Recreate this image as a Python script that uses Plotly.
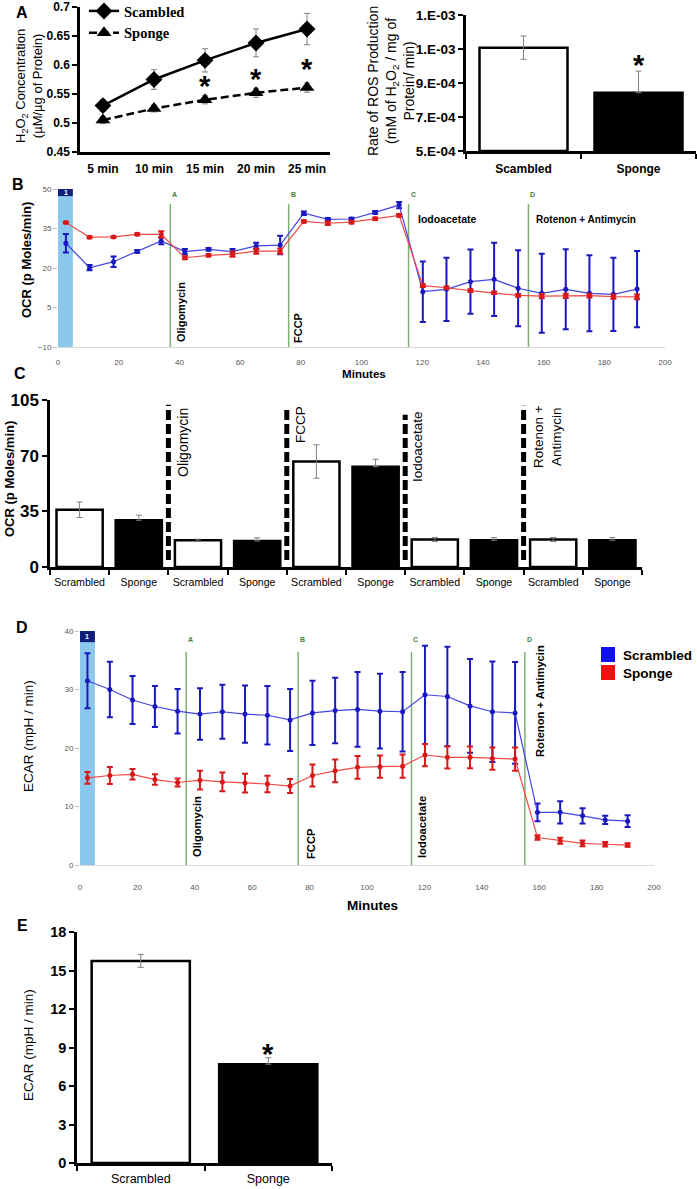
import plotly.graph_objects as go

W, H = 697, 1189
def px(x): return x / W
def py(y): return 1 - y / H

ARIAL = "Liberation Sans"
TIMES = "Liberation Serif"

# ---------------- Panel A (left) ----------------
a_times = ["5 min", "10 min", "15 min", "20 min", "25 min"]
a_scr = [0.530, 0.575, 0.608, 0.638, 0.662]
a_scr_err = [0.010, 0.017, 0.020, 0.024, 0.027]
a_spo = [0.505, 0.525, 0.540, 0.552, 0.561]
a_spo_err = [0.006, 0.006, 0.007, 0.008, 0.008]
a_star_x = [2, 3, 4]
a_star_y = [0.571, 0.583, 0.600]
a_yticks = [0.45, 0.5, 0.55, 0.6, 0.65, 0.7]
a_yticktext = ["0.45", "0.5", "0.55", "0.6", "0.65", "0.7"]

# ---------------- Panel A (right) ----------------
ros_groups = ["Scambled", "Sponge"]
ros_rate = [1.108e-3, 8.43e-4]
ros_err_plus = [6.85e-5, 1.27e-4]
ros_err_minus = [6.85e-5, 0.0]
ros_star_y = 1.031e-3
ros_ticks = [5e-4, 7e-4, 9e-4, 1.1e-3, 1.3e-3]
ros_ticktext = ["5.E-04", "7.E-04", "9.E-04", "1.E-03", "1.E-03"]

# ---------------- Panels B & D (time courses) ----------------
t_min = [2.6, 10.4, 18.3, 26.1, 34.0, 41.8, 49.6, 57.5, 65.3, 73.2, 81.0, 88.9, 96.7,
         104.5, 112.4, 120.2, 128.0, 135.9, 143.7, 151.6, 159.4, 167.3, 175.1, 183.0, 190.8]
inject_t = [37, 76, 115.5, 155]
inject_letters = ["A", "B", "C", "D"]

ocr_scr = [29.4, 20.1, 22.4, 26.3, 30.3, 26.2, 27.1, 26.2, 28.4, 28.7, 40.8, 38.5, 38.6,
           41.1, 43.9, 11.0, 11.9, 14.8, 15.7, 12.3, 10.4, 11.9, 10.4, 10.0, 12.0]
ocr_scr_err = [3.5, 1.0, 2.0, 0.5, 1.3, 1.0, 0.5, 1.0, 1.2, 3.5, 0.7, 0.5, 0.5,
               0.5, 1.2, 11.5, 12.0, 12.2, 13.9, 14.4, 15.0, 15.2, 14.4, 13.9, 14.5]
ocr_spo = [37.3, 31.7, 31.8, 32.8, 32.8, 23.9, 24.8, 25.3, 26.4, 26.4, 37.7, 37.0, 37.4,
           38.7, 40.0, 13.3, 12.5, 11.4, 10.6, 9.6, 9.3, 9.4, 9.5, 9.1, 9.0]
ocr_spo_err = [0.3, 0.4, 0.3, 0.4, 1.2, 0.6, 0.4, 1.0, 1.0, 1.0, 0.4, 0.7, 0.5,
               0.5, 0.5, 0.5, 0.5, 0.5, 0.5, 0.5, 0.8, 0.8, 0.7, 0.8, 0.9]

ecar_scr = [31.5, 30.0, 28.2, 27.1, 26.3, 25.8, 26.2, 25.8, 25.6, 24.8, 26.0, 26.4, 26.6,
            26.3, 26.2, 29.1, 28.8, 27.2, 26.2, 26.0, 9.0, 9.0, 8.4, 7.7, 7.5]
ecar_scr_err = [4.7, 4.75, 4.1, 3.5, 3.8, 4.4, 4.6, 4.9, 5.0, 5.3, 5.5, 5.6, 6.4,
                6.4, 6.8, 8.4, 8.5, 8.0, 8.6, 8.7, 1.5, 1.9, 1.3, 0.7, 1.0]
ecar_spo = [14.9, 15.3, 15.5, 14.6, 14.1, 14.5, 14.2, 14.0, 13.85, 13.5, 15.3, 16.1, 16.7,
            16.8, 16.9, 18.8, 18.4, 18.4, 18.2, 18.1, 4.7, 4.15, 3.7, 3.55, 3.4]
ecar_spo_err = [1.0, 1.45, 0.9, 0.9, 0.7, 1.6, 1.6, 1.6, 1.4, 1.2, 1.9, 1.95, 1.95,
                1.9, 2.0, 1.9, 1.9, 1.85, 1.9, 2.0, 0.4, 0.5, 0.5, 0.4, 0.3]

# ---------------- Panel C ----------------
c_labels = ["Scrambled", "Sponge"] * 5
c_vals = [36.0, 29.4, 16.8, 16.4, 66.3, 63.1, 17.3, 16.8, 17.3, 16.8]
c_err = [4.9, 3.2, 0.7, 2.0, 10.5, 4.6, 1.3, 1.7, 1.3, 1.7]
c_divider_top = [102, 100.8, 95.7, 101.4]

# ---------------- Panel E ----------------
e_groups = ["Scrambled", "Sponge"]
e_vals = [15.75, 7.7]
e_err_plus = [0.5, 0.5]
e_err_minus = [0.5, 0.0]
e_star_y = 8.83

BLUE_LINE = "#4444e0"
BLUE = "#1818c0"
RED_LINE = "#f04848"
RED = "#d81818"
GREEN = "#7fae74"
BAND = "#8cc8ec"
NAVY = "#101f7a"
SH_GREY = "#555555"

fig = go.Figure()

# ---- A left traces ----
fig.add_trace(go.Scatter(
    x=list(range(len(a_times))), y=a_scr, name="Scambled", mode="lines+markers",
    line=dict(color="black", width=2.5), marker=dict(symbol="diamond", size=13, color="black"),
    error_y=dict(type="data", array=a_scr_err, color="#808080", thickness=1, width=3),
    xaxis="x", yaxis="y", showlegend=True))
fig.add_trace(go.Scatter(
    x=list(range(len(a_times))), y=a_spo, name="Sponge", mode="lines+markers",
    line=dict(color="black", width=2.5, dash="8px,4px"),
    marker=dict(symbol="triangle-up", size=13, color="black"),
    error_y=dict(type="data", array=a_spo_err, color="#808080", thickness=1, width=3),
    xaxis="x", yaxis="y", showlegend=True))

# ---- A right bars ----
fig.add_trace(go.Bar(
    x=[0, 1], y=[v - ros_ticks[0] for v in ros_rate], base=ros_ticks[0], width=0.765,
    marker=dict(color=["white", "black"], line=dict(color="black", width=2.5)),
    error_y=dict(type="data", array=ros_err_plus, arrayminus=ros_err_minus, symmetric=False,
                 color="#808080", thickness=1, width=3),
    xaxis="x2", yaxis="y2", showlegend=False))

# ---- B lines ----
for vals, errs, lc, ec in [(ocr_scr, ocr_scr_err, BLUE_LINE, BLUE), (ocr_spo, ocr_spo_err, RED_LINE, RED)]:
    fig.add_trace(go.Scatter(
        x=t_min, y=vals, mode="lines+markers", line=dict(color=lc, width=1.2),
        marker=dict(size=5, color=ec),
        error_y=dict(type="data", array=errs, color=ec, thickness=2, width=3),
        xaxis="x3", yaxis="y3", showlegend=False))

# ---- C bars ----
fig.add_trace(go.Bar(
    x=list(range(len(c_vals))), y=c_vals, width=0.78,
    marker=dict(color=["white", "black"] * 5, line=dict(color="black", width=2.5)),
    error_y=dict(type="data", array=c_err,
                 arrayminus=[e if i % 2 == 0 else 0 for i, e in enumerate(c_err)],
                 symmetric=False, color="#808080", thickness=1, width=3),
    xaxis="x4", yaxis="y4", showlegend=False))

# ---- D lines ----
for vals, errs, lc, ec in [(ecar_scr, ecar_scr_err, BLUE_LINE, BLUE), (ecar_spo, ecar_spo_err, RED_LINE, RED)]:
    fig.add_trace(go.Scatter(
        x=t_min, y=vals, mode="lines+markers", line=dict(color=lc, width=1.2),
        marker=dict(size=5, color=ec),
        error_y=dict(type="data", array=errs, color=ec, thickness=2, width=3),
        xaxis="x5", yaxis="y5", showlegend=False))

# ---- E bars ----
fig.add_trace(go.Bar(
    x=[0, 1], y=e_vals, width=0.77,
    marker=dict(color=["white", "black"], line=dict(color="black", width=2.5)),
    error_y=dict(type="data", array=e_err_plus, arrayminus=e_err_minus, symmetric=False,
                 color="#808080", thickness=1, width=3),
    xaxis="x6", yaxis="y6", showlegend=False))

# ---------------- axes ----------------
def excel_axis(**kw):
    d = dict(showline=True, linecolor="black", linewidth=2.5, showgrid=False, zeroline=False,
             ticks="outside", ticklen=5, tickwidth=2, tickcolor="black")
    d.update(kw)
    return d

def sh_axis(**kw):
    d = dict(showgrid=False, zeroline=False, tickfont=dict(family=ARIAL, size=8, color=SH_GREY))
    d.update(kw)
    return d

layout_axes = dict(
    xaxis=excel_axis(domain=[px(80), px(330)], range=[-0.45, 4.45], anchor="y",
                     tickvals=list(range(5)), ticktext=a_times, ticks="", ticklabelstandoff=4,
                     tickfont=dict(family=ARIAL, size=12, weight="bold", color="black")),
    yaxis=excel_axis(domain=[py(152), py(7)], range=[0.45, 0.7], anchor="x",
                     tickvals=a_yticks, ticktext=a_yticktext,
                     tickfont=dict(family=ARIAL, size=12, weight="bold", color="black")),
    xaxis2=excel_axis(domain=[px(466), px(696)], range=[-0.5, 1.5], anchor="y2",
                      tickvals=[0, 1], ticktext=ros_groups, ticks="", ticklabelstandoff=5,
                      minor=dict(tickmode="array", tickvals=[-0.5, 0.5, 1.5], ticks="outside",
                                 ticklen=5, tickwidth=2, tickcolor="black"),
                      tickfont=dict(family=ARIAL, size=12, weight="bold", color="black")),
    yaxis2=excel_axis(domain=[py(151), py(15)], range=[5e-4, 1.3e-3], anchor="x2",
                      tickvals=ros_ticks, ticktext=ros_ticktext,
                      tickfont=dict(family=ARIAL, size=13.5, weight="bold", color="black")),
    xaxis3=sh_axis(domain=[px(58), px(665)], range=[0, 200], anchor="y3", showline=True,
                   linecolor="#d8d8d8", linewidth=1, tickvals=list(range(0, 201, 20)),
                   ticks="", ticklabelstandoff=7),
    yaxis3=sh_axis(domain=[py(347), py(189)], range=[-10.001, 50.001], anchor="x3", showline=False,
                   tickvals=[-10, 5, 20, 35, 50], ticks="outside", ticklen=4,
                   tickcolor="#bbbbbb", tickwidth=1),
    xaxis4=excel_axis(domain=[px(50), px(642)], range=[-0.5, 9.5], anchor="y4",
                      tickvals=list(range(10)), ticktext=c_labels, ticks="", ticklabelstandoff=4,
                      minor=dict(tickmode="array", tickvals=[i - 0.5 for i in range(11)],
                                 ticks="outside", ticklen=5, tickwidth=2, tickcolor="black"),
                      tickfont=dict(family=ARIAL, size=10.6, color="black")),
    yaxis4=excel_axis(domain=[py(567), py(400)], range=[0, 105], anchor="x4",
                      tickvals=[0, 35, 70, 105],
                      tickfont=dict(family=ARIAL, size=17, weight="bold", color="black")),
    xaxis5=sh_axis(domain=[px(80), px(654)], range=[0, 200], anchor="y5", showline=True,
                   linecolor="#d8d8d8", linewidth=1, tickvals=list(range(0, 201, 20)),
                   ticks="", ticklabelstandoff=14),
    yaxis5=sh_axis(domain=[py(865), py(631)], range=[0, 40.001], anchor="x5", showline=False,
                   tickvals=[0, 10, 20, 30, 40], ticks="outside", ticklen=4,
                   tickcolor="#bbbbbb", tickwidth=1),
    xaxis6=excel_axis(domain=[px(77), px(332)], range=[-0.5, 1.5], anchor="y6",
                      tickvals=[0, 1], ticktext=e_groups, ticks="", ticklabelstandoff=2,
                      minor=dict(tickmode="array", tickvals=[-0.5, 0.5, 1.5], ticks="outside",
                                 ticklen=5, tickwidth=2, tickcolor="black"),
                      tickfont=dict(family=ARIAL, size=12.5, color="black")),
    yaxis6=excel_axis(domain=[py(1163), py(932)], range=[0, 18], anchor="x6",
                      tickvals=[0, 3, 6, 9, 12, 15, 18],
                      tickfont=dict(family=ARIAL, size=14.5, weight="bold", color="black")),
)

# ---------------- shapes ----------------
shapes = []
def sh_decor(xa, ya, y_bottom, band_top, navy_top, line_top, band_x1):
    out = [
        dict(type="rect", xref=xa, yref=ya, x0=0, x1=band_x1, y0=y_bottom, y1=band_top,
             fillcolor=BAND, line=dict(width=0), layer="below"),
        dict(type="rect", xref=xa, yref=ya, x0=0, x1=band_x1, y0=band_top, y1=navy_top,
             fillcolor=NAVY, line=dict(width=0)),
    ]
    for t in inject_t:
        out.append(dict(type="line", xref=xa, yref=ya, x0=t, x1=t, y0=y_bottom, y1=line_top,
                        line=dict(color=GREEN, width=1.5), layer="below"))
    return out

shapes += sh_decor("x3", "y3", -10, 47.3, 50, 44.3, 4.9)
shapes += sh_decor("x5", "y5", 0, 38.1, 40, 36.4, 5.2)

for i, top in enumerate(c_divider_top):
    xx = 1.5 + 2 * i
    shapes.append(dict(type="line", xref="x4", yref="y4", x0=xx, x1=xx, y0=4.4, y1=top,
                       line=dict(color="black", width=5, dash="10px,4px")))

# D legend squares
shapes.append(dict(type="rect", xref="paper", yref="paper", x0=px(601), x1=px(615),
                   y0=py(662), y1=py(647), fillcolor="#1010f0", line=dict(width=0)))
shapes.append(dict(type="rect", xref="paper", yref="paper", x0=px(601), x1=px(615),
                   y0=py(680), y1=py(665), fillcolor="#f01010", line=dict(width=0)))

# ---------------- annotations ----------------
def ann(text, x, y, size, family=ARIAL, weight="normal", color="black", angle=0,
        xanchor="center", yanchor="middle", align="center"):
    return dict(text=text, x=px(x), y=py(y), xref="paper", yref="paper", showarrow=False,
                font=dict(family=family, size=size, color=color, weight=weight),
                textangle=angle, xanchor=xanchor, yanchor=yanchor, align=align)

anns = []
# panel letters
for letter, x, y in [("A", 22, 12), ("B", 18, 185), ("C", 20, 373), ("D", 22, 627), ("E", 22, 925)]:
    anns.append(ann(letter, x, y, 16, weight="bold"))

# axis titles
anns.append(ann("H<sub>2</sub>O<sub>2</sub> Concentration<br>(µM/µg of Protein)", 29, 86, 13, angle=-90))
anns.append(ann("Rate of ROS Production<br>(mM of H<sub>2</sub>O<sub>2</sub> / mg of<br>Protein/ min)",
                391, 81, 14, angle=-90))
anns.append(ann("OCR (p Moles/min)", 26, 260, 13, weight="bold", angle=-90))
anns.append(ann("Minutes", 364, 373, 11.6, weight="bold"))
anns.append(ann("OCR (p Moles/min)", 9, 479, 13, weight="bold", angle=-90))
anns.append(ann("ECAR (mpH / min)", 28, 736, 13.5, angle=-90))
anns.append(ann("Minutes", 372, 905, 13.5, weight="bold"))
anns.append(ann("ECAR (mpH / min)", 28, 1045, 13.5, angle=-90))

# B treatment labels
anns.append(ann("Oligomycin", 181, 312, 11, weight="bold", angle=-90))
anns.append(ann("FCCP", 298, 328, 11, weight="bold", angle=-90))
anns.append(ann("Iodoacetate", 416, 219, 10.5, weight="bold", xanchor="left"))
anns.append(ann("Rotenon + Antimycin", 534, 219, 10, weight="bold", xanchor="left"))
# C treatment labels
anns.append(ann("Oligomycin", 183, 443, 14, angle=-90))
anns.append(ann("FCCP", 300, 425, 13.5, angle=-90))
anns.append(ann("Iodoacetate", 418, 447, 13.5, angle=-90))
anns.append(ann("Rotenon +<br>Antimycin", 547, 437, 13.5, angle=-90))
# D treatment labels
anns.append(ann("Oligomycin", 197, 827, 11.2, weight="bold", angle=-90))
anns.append(ann("FCCP", 311, 844, 11.2, weight="bold", angle=-90))
anns.append(ann("Iodoacetate", 422, 827, 11.2, weight="bold", angle=-90))
anns.append(ann("Rotenon + Antimycin", 540, 701, 11.2, weight="bold", angle=-90))
# D legend text
anns.append(ann("Scrambled", 621, 655, 13.5, weight="bold", xanchor="left"))
anns.append(ann("Sponge", 621, 673, 13.5, weight="bold", xanchor="left"))

# injection letters + "1" boxes
for xa, ya, ytxt, ybox in [("x3", "y3", 47.8, 48.6), ("x5", "y5", 38.6, 39.0)]:
    for t, l in zip(inject_t, inject_letters):
        anns.append(dict(text=l, x=t, y=ytxt, xref=xa, yref=ya, showarrow=False,
                         font=dict(family=ARIAL, size=7, color="#3f7f3f", weight="bold"),
                         xanchor="left", yanchor="middle"))
    anns.append(dict(text="1", x=2.6, y=ybox, xref=xa, yref=ya, showarrow=False,
                     font=dict(family=ARIAL, size=7, color="white", weight="bold"),
                     xanchor="center", yanchor="middle"))

# asterisks
STAR_FONT = dict(family=ARIAL, size=29, weight="bold", color="black")
for xs, ys in zip(a_star_x, a_star_y):
    anns.append(dict(text="*", x=xs, y=ys, xref="x", yref="y", showarrow=False, yshift=-4,
                     font=STAR_FONT))
anns.append(dict(text="*", x=1, y=ros_star_y, xref="x2", yref="y2", showarrow=False, yshift=-4,
                 font=STAR_FONT))
anns.append(dict(text="*", x=1, y=e_star_y, xref="x6", yref="y6", showarrow=False, yshift=-4,
                 font=STAR_FONT))

fig.update_layout(
    width=W, height=H, margin=dict(l=0, r=0, t=0, b=0, autoexpand=False),
    plot_bgcolor="white", paper_bgcolor="white",
    shapes=shapes, annotations=anns, barmode="overlay",
    legend=dict(x=px(84), y=1 + 5 / H, xanchor="left", yanchor="top", bgcolor="rgba(0,0,0,0)",
                font=dict(family=TIMES, size=14.5, weight="bold", color="black"),
                itemwidth=30, tracegroupgap=0),
    **layout_axes,
)

fig.write_html("out.html", config={"displayModeBar": False},
               post_script="document.body.style.margin='0px';document.body.style.padding='0px';")
